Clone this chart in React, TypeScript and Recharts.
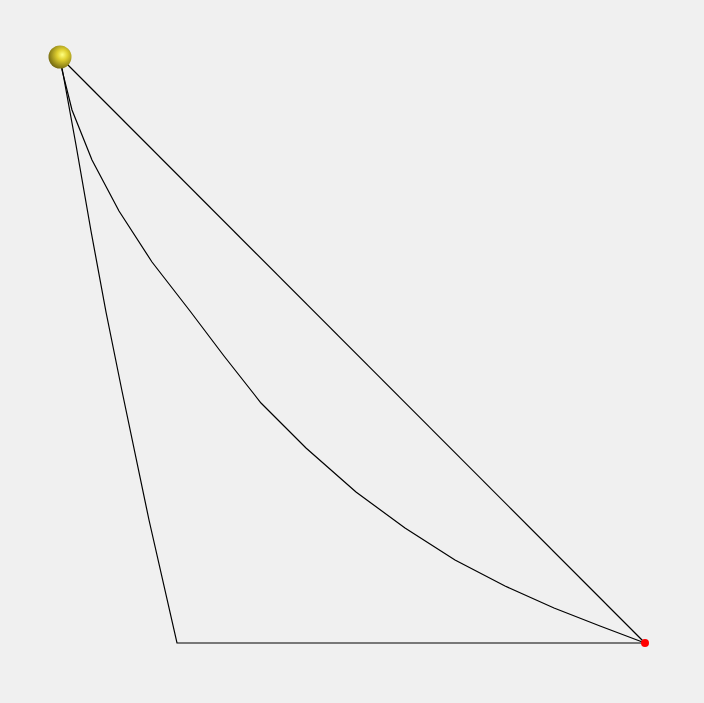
import { ScatterChart, Scatter, XAxis, YAxis } from 'recharts'

// Coordinates in page units (x right, y down)
const straightPath = [
  { x: 60, y: 57 }, { x: 645, y: 643 },
]
const curvePath = [
  { x: 60, y: 57 }, { x: 62, y: 70 }, { x: 72, y: 110 }, { x: 92, y: 160 },
  { x: 119, y: 211 }, { x: 152, y: 262 }, { x: 190, y: 311 }, { x: 224, y: 356 },
  { x: 261, y: 403 }, { x: 306, y: 448 }, { x: 356, y: 492 }, { x: 405, y: 528 },
  { x: 455, y: 560 }, { x: 505, y: 586 }, { x: 554, y: 608 }, { x: 600, y: 626 },
  { x: 645, y: 643 },
]
const rampPath = [
  { x: 60, y: 57 }, { x: 76, y: 145 }, { x: 91, y: 231 }, { x: 106, y: 312 },
  { x: 122, y: 391 }, { x: 149, y: 520 }, { x: 177, y: 643 }, { x: 645, y: 643 },
]
const startPoint = [{ x: 60, y: 57 }]
const endPoint = [{ x: 645, y: 643 }]

const W = 704
const H = 703
const none = () => <g />

const Ball = (p: any) => (
  <g>
    <defs>
      <radialGradient id="ballGrad" cx="0.6" cy="0.4" r="0.65">
        <stop offset="0%" stopColor="#ffff80" />
        <stop offset="35%" stopColor="#e0d030" />
        <stop offset="100%" stopColor="#6e6410" />
      </radialGradient>
    </defs>
    <circle cx={p.cx} cy={p.cy} r={11.5} fill="url(#ballGrad)" />
  </g>
)
const RedDot = (p: any) => <circle cx={p.cx} cy={p.cy} r={4} fill="#ff0000" />

export default function App() {
  return (
    <div style={{ position: 'absolute', left: 0, top: 0, width: W, height: H, background: '#f0f0f0' }}>
      <ScatterChart width={W} height={H} margin={{ top: 0, right: 0, bottom: 0, left: 0 }}>
        <XAxis type="number" dataKey="x" domain={[0, W]} hide />
        <YAxis type="number" dataKey="y" domain={[0, H]} reversed hide />
        <Scatter data={straightPath} line={{ stroke: '#000', strokeWidth: 1.2 }} lineType="joint" shape={none} isAnimationActive={false} />
        <Scatter data={curvePath} line={{ stroke: '#000', strokeWidth: 1.2 }} lineType="joint" shape={none} isAnimationActive={false} />
        <Scatter data={rampPath} line={{ stroke: '#000', strokeWidth: 1.2 }} lineType="joint" shape={none} isAnimationActive={false} />
        <Scatter data={endPoint} shape={RedDot} isAnimationActive={false} />
        <Scatter data={startPoint} shape={Ball} isAnimationActive={false} />
      </ScatterChart>
    </div>
  )
}
